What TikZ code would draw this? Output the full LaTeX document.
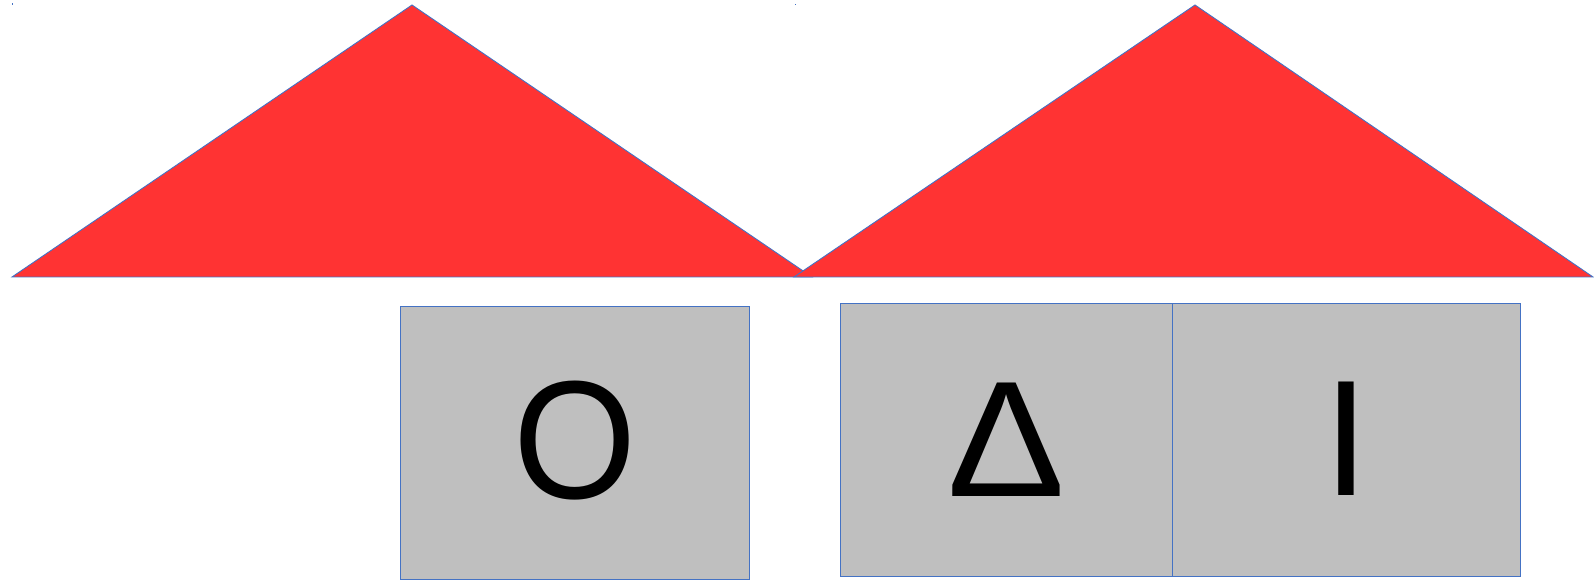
\documentclass[tikz,border=0pt]{standalone}
\usepackage{fontspec}
\setmainfont{Liberation Sans}
\definecolor{tri}{RGB}{255,51,51}
\definecolor{edge}{RGB}{68,114,196}
\definecolor{boxg}{RGB}{191,191,191}
\begin{document}
\begin{tikzpicture}[x=0.5pt,y=-0.5pt,
  roof/.style={fill=tri,draw=edge,line width=0.45pt,line join=miter},
  tile/.style={fill=boxg,draw=edge,line width=0.5pt},
  glyph/.style={anchor=base,inner sep=0pt,font=\fontsize{82.5}{82.5}\selectfont}]
\useasboundingbox (0,0) rectangle (1594,581);
% tiny marks
\fill[edge] (11.5,3.5) rectangle (13,5);
\fill[edge] (794.5,4) rectangle (796,5.5);
% triangles
\draw[roof] (12,277) -- (412,5) -- (812,277) -- cycle;
\draw[roof] (794,277) -- (1195,5) -- (1593,277) -- cycle;
% boxes
\draw[tile] (400.5,307) rectangle (749,579.5);
\draw[tile] (840,304) rectangle (1172,576.5);
\draw[tile] (1172,304) rectangle (1520,576.5);
% letters
\node[glyph] (o) at (575,499) {\scalebox{0.96}[1.02]{Ο}};
\node[glyph] (d) at (1006,497) {\scalebox{1.07}[1]{Δ}};
\node[glyph] (i) at (1346.5,496) {Ι};
\end{tikzpicture}
\end{document}
